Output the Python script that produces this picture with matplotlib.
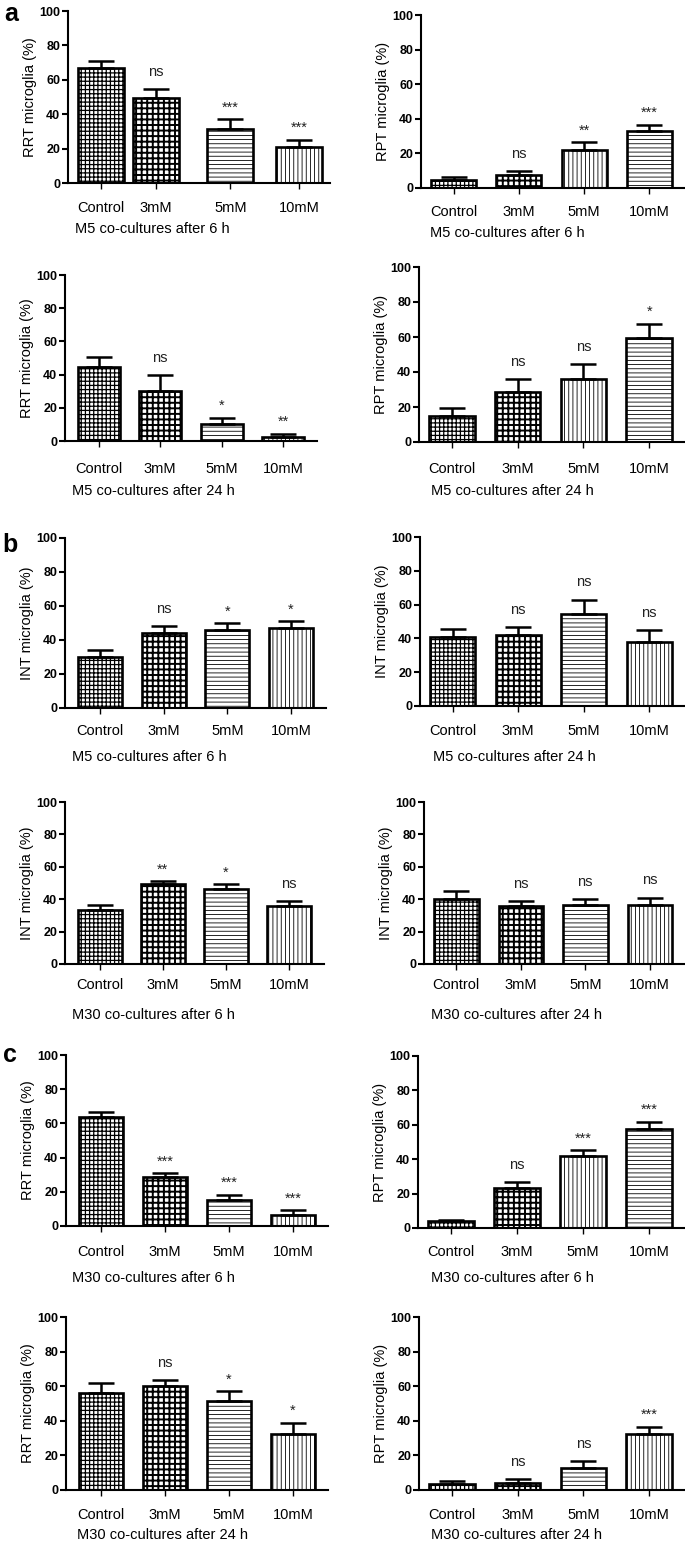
import matplotlib
matplotlib.use("Agg")
import matplotlib.pyplot as plt
import numpy as np

plt.rcParams['font.family'] = ['Liberation Sans', 'DejaVu Sans']

W, H, DPI = 685, 1545, 100

categories = ['Control', '3mM', '5mM', '10mM']

# ---- data ----
rrt_m5_6h = [67.0, 49.6, 31.2, 21.1]
rrt_m5_6h_err = [4.0, 5.0, 5.8, 4.0]
rrt_m5_6h_sig = ['', 'ns', '***', '***']

rpt_m5_6h = [4.5, 7.8, 22.0, 33.2]
rpt_m5_6h_err = [1.8, 2.2, 4.4, 3.5]
rpt_m5_6h_sig = ['', 'ns', '**', '***']

rrt_m5_24h = [44.7, 30.0, 10.0, 2.4]
rrt_m5_24h_err = [6.0, 9.6, 4.0, 2.0]
rrt_m5_24h_sig = ['', 'ns', '*', '**']

rpt_m5_24h = [14.7, 28.3, 35.8, 59.3]
rpt_m5_24h_err = [5.0, 7.8, 8.6, 8.2]
rpt_m5_24h_sig = ['', 'ns', 'ns', '*']

int_m5_6h = [30.0, 44.1, 46.1, 47.1]
int_m5_6h_err = [3.9, 4.3, 3.9, 3.9]
int_m5_6h_sig = ['', 'ns', '*', '*']

int_m5_24h = [40.9, 41.9, 54.3, 38.0]
int_m5_24h_err = [4.4, 4.6, 8.7, 6.9]
int_m5_24h_sig = ['', 'ns', 'ns', 'ns']

int_m30_6h = [33.2, 49.3, 46.1, 36.0]
int_m30_6h_err = [3.4, 1.8, 3.0, 3.0]
int_m30_6h_sig = ['', '**', '*', 'ns']

int_m30_24h = [40.2, 36.0, 36.2, 36.2]
int_m30_24h_err = [5.0, 3.0, 3.8, 4.8]
int_m30_24h_sig = ['', 'ns', 'ns', 'ns']

rrt_m30_6h = [63.5, 28.4, 15.4, 6.2]
rrt_m30_6h_err = [3.0, 2.5, 2.9, 2.9]
rrt_m30_6h_sig = ['', '***', '***', '***']

rpt_m30_6h = [3.9, 23.2, 42.0, 57.4]
rpt_m30_6h_err = [1.0, 3.3, 3.1, 4.5]
rpt_m30_6h_sig = ['', 'ns', '***', '***']

rrt_m30_24h = [56.3, 60.0, 51.5, 32.3]
rrt_m30_24h_err = [5.8, 3.5, 5.6, 6.5]
rrt_m30_24h_sig = ['', 'ns', '*', '*']

rpt_m30_24h = [3.5, 4.2, 12.7, 32.1]
rpt_m30_24h_err = [1.9, 2.1, 4.0, 4.4]
rpt_m30_24h_sig = ['', 'ns', 'ns', '***']

ylabels = ['RRT microglia (%)', 'RPT microglia (%)',
           'RRT microglia (%)', 'RPT microglia (%)',
           'INT microglia (%)', 'INT microglia (%)',
           'INT microglia (%)', 'INT microglia (%)',
           'RRT microglia (%)', 'RPT microglia (%)',
           'RRT microglia (%)', 'RPT microglia (%)']
xlabels = ['M5 co-cultures after 6 h', 'M5 co-cultures after 6 h',
           'M5 co-cultures after 24 h', 'M5 co-cultures after 24 h',
           'M5 co-cultures after 6 h', 'M5 co-cultures after 24 h',
           'M30 co-cultures after 6 h', 'M30 co-cultures after 24 h',
           'M30 co-cultures after 6 h', 'M30 co-cultures after 6 h',
           'M30 co-cultures after 24 h', 'M30 co-cultures after 24 h']

values = [rrt_m5_6h, rpt_m5_6h, rrt_m5_24h, rpt_m5_24h, int_m5_6h, int_m5_24h,
          int_m30_6h, int_m30_24h, rrt_m30_6h, rpt_m30_6h, rrt_m30_24h, rpt_m30_24h]
errors = [rrt_m5_6h_err, rpt_m5_6h_err, rrt_m5_24h_err, rpt_m5_24h_err, int_m5_6h_err,
          int_m5_24h_err, int_m30_6h_err, int_m30_24h_err, rrt_m30_6h_err,
          rpt_m30_6h_err, rrt_m30_24h_err, rpt_m30_24h_err]
sigs = [rrt_m5_6h_sig, rpt_m5_6h_sig, rrt_m5_24h_sig, rpt_m5_24h_sig, int_m5_6h_sig,
        int_m5_24h_sig, int_m30_6h_sig, int_m30_24h_sig, rrt_m30_6h_sig,
        rpt_m30_6h_sig, rrt_m30_24h_sig, rpt_m30_24h_sig]

# ---- layout / style (pixels) ----
# (left, right, top(100), bottom(0)) of each axes
boxes = [(68, 330, 11, 183), (421, 684, 15, 188),
         (65, 317, 275, 441), (419, 684, 267, 442),
         (65, 326, 538, 708), (420, 684, 537, 706),
         (65, 324, 802, 964), (424, 684, 802, 964),
         (66, 328, 1055, 1226), (418, 684, 1056, 1228),
         (66, 328, 1317, 1490), (419, 684, 1317, 1490)]
ticklabel_y = [208, 212, 469, 469, 731, 731, 985, 985, 1252, 1252, 1515, 1515]
xlabel_xy = [(75, 229), (430, 233), (72, 491), (431, 491), (72, 757), (433, 757),
             (72, 1015), (431, 1015), (72, 1278), (431, 1278), (77, 1535), (431, 1535)]
patterns = [['fine', 'check', 'h', 'v'], ['fine', 'check', 'v', 'h'],
            ['fine', 'check', 'h', 'v'], ['fine', 'check', 'v', 'h'],
            ['fine', 'check', 'h', 'v'], ['fine', 'check', 'h', 'v'],
            ['fine', 'check', 'h', 'v'], ['fine', 'check', 'h', 'v'],
            ['fine', 'check', 'h', 'v'], ['fine', 'check', 'v', 'h'],
            ['fine', 'check', 'h', 'v'], ['fine', 'check', 'h', 'v']]
hatch_styles = {'fine': ('++++', 0.9), 'check': ('+++', 1.4),
                'h': ('----', 0.6), 'v': ('||||', 0.6)}

fig = plt.figure(figsize=(W / DPI, H / DPI), dpi=DPI)
fig.patch.set_facecolor('white')

for i in range(12):
    l, r, t, b = boxes[i]
    ax = fig.add_axes([l / W, 1 - b / H, (r - l) / W, (b - t) / H])
    if i == 0:
        pos = np.array([0, 1, 2.35, 3.6])
        width = 0.84
        xlim = (-0.6, 4.16)
    else:
        pos = np.arange(4)
        width = 0.69
        xlim = (-0.55, 3.55) if i % 2 == 0 else (-0.5, 3.53)
    vals = values[i]
    errs = errors[i]
    for xi, v, pat in zip(pos, vals, patterns[i]):
        hatch, hlw = hatch_styles[pat]
        with plt.rc_context({'hatch.linewidth': hlw}):
            bars = ax.bar(xi, v, width=width, facecolor='white', edgecolor='black',
                          linewidth=1.9, hatch=hatch, zorder=2)
        for p in bars:
            if hasattr(p, 'set_hatch_linewidth'):
                p.set_hatch_linewidth(hlw)
    ax.errorbar(pos, vals, yerr=[np.zeros(4), errs], fmt='none', ecolor='black',
                elinewidth=1.8, capsize=9.5, capthick=1.8, zorder=3)
    for xi, v, e, s in zip(pos, vals, errs, sigs[i]):
        if s:
            off = 9.5 if s == 'ns' else 5.5
            ax.annotate(s, (xi, v + e), xytext=(0, off), textcoords='offset points',
                        ha='center', va='baseline', fontsize=10.5, color='#222222')
    ax.set_ylim(0, 100)
    ax.set_xlim(*xlim)
    ax.set_yticks([0, 20, 40, 60, 80, 100])
    ax.set_xticks(pos)
    ax.set_xticklabels(categories, fontsize=10.5)
    for sp in ['top', 'right']:
        ax.spines[sp].set_visible(False)
    for sp in ['left', 'bottom']:
        ax.spines[sp].set_linewidth(1.5)
    ax.tick_params(axis='y', direction='out', length=4, width=1.5, labelsize=9, pad=1.5)
    for lab in ax.get_yticklabels():
        lab.set_fontweight('bold')
    pad_px = ticklabel_y[i] - b - 4 - 8.5
    ax.tick_params(axis='x', direction='out', length=4, width=1.0, pad=pad_px * 0.72)
    ax.set_ylabel(ylabels[i], fontsize=10.5)
    ax.yaxis.set_label_coords(-31.0 / (r - l), 0.5)
    xl, yl = xlabel_xy[i]
    fig.text(xl / W, 1 - yl / H, xlabels[i], ha='left', va='center', fontsize=10.5)

for letter, (lx, ly) in zip(['a', 'b', 'c'], [(11, 14), (10, 545), (10, 1055)]):
    fig.text(lx / W, 1 - ly / H, letter, ha='center', va='center',
             fontsize=18, fontweight='bold')

fig.savefig('out.png', dpi=DPI, facecolor='white')
